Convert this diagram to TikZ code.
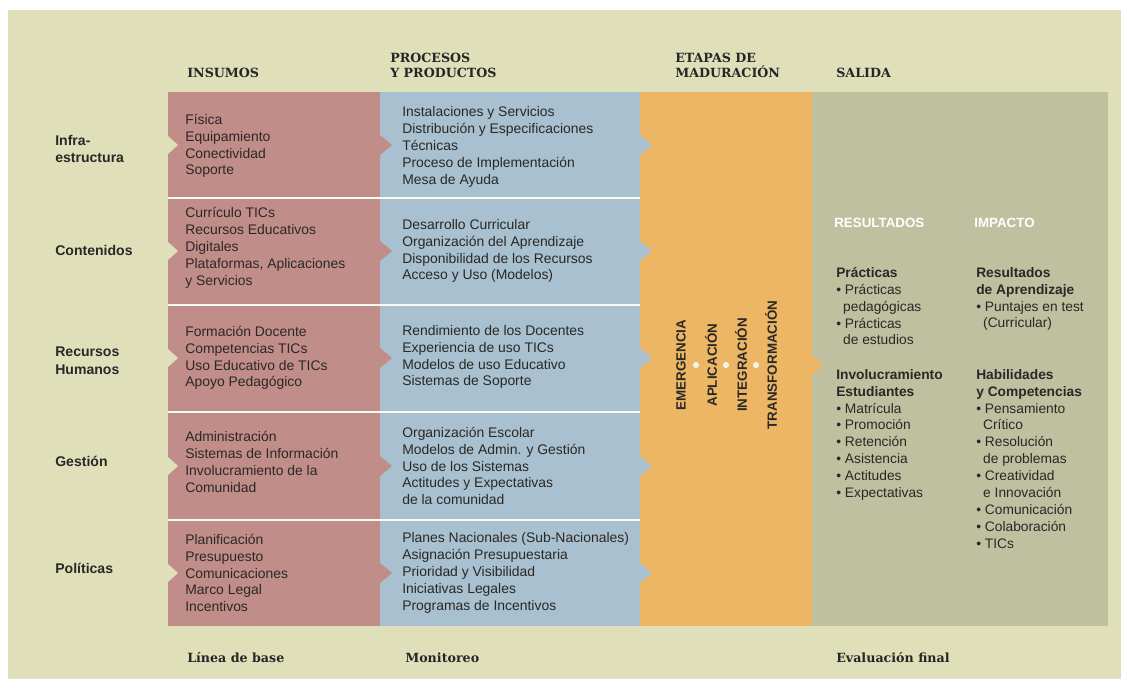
\documentclass[tikz,border=0pt]{standalone}
\usepackage{fontspec}
\setmainfont{Liberation Sans}
\newfontfamily\slab{DejaVu Serif}
\usepackage{tikz}
\usetikzlibrary{positioning}
\definecolor{fondo}{HTML}{DFE0BA}
\definecolor{rosa}{HTML}{C18D89}
\definecolor{celeste}{HTML}{A8C0CF}
\definecolor{naranja}{HTML}{EDB664}
\definecolor{oliva}{HTML}{BEC0A0}
\definecolor{tinta}{HTML}{2A2826}
\newcommand{\punto}{\textbullet\ }
\newcommand{\sangria}{\hspace*{0.5em}}

\begin{document}
\begin{tikzpicture}[x=0.025cm,y=-0.025cm,
    head/.style={font=\slab\bfseries\fontsize{9}{11}\selectfont, inner sep=0, align=left, text=black!85},
    fila/.style={font=\bfseries\fontsize{10}{12.5}\selectfont, inner sep=0, align=left, anchor=west, text=tinta},
    cuerpo/.style={font=\fontsize{9.9}{12}\selectfont, inner sep=0, align=left, anchor=west, text=tinta},
    lista/.style={font=\fontsize{9.8}{12}\selectfont, inner sep=0, align=left, anchor=north west, text=tinta},
    etapa/.style={font=\bfseries\fontsize{9.5}{11}\selectfont, rotate=90, inner sep=0, text=tinta},
    blanco/.style={font=\bfseries\fontsize{9.5}{11}\selectfont, inner sep=0, anchor=west, text=white}]
  \useasboundingbox (0,0) rectangle (1128,688);
  \fill[fondo] (8,10) rectangle (1121,679);
  \fill[oliva] (812,92) rectangle (1108,626);
  \fill[naranja] (640,92) rectangle (812,626);
  \fill[naranja] (812,355) -- (823,365) -- (812,375) -- cycle;
  \fill[celeste] (380,92) rectangle (640,626);
  \fill[rosa] (168,92) rectangle (380,626);
  \foreach \y in {145,251,358,466,573}{
    \fill[celeste] (640,\y-10) -- (652,\y) -- (640,\y+10) -- cycle;
    \fill[rosa] (380,\y-10) -- (392,\y) -- (380,\y+10) -- cycle;
    \fill[fondo] (168,\y-9) -- (178,\y) -- (168,\y+9) -- cycle;
  }
  \foreach \y in {198,305,412,520}
    \draw[white!85!fondo, line width=0.8pt] (168,\y) -- (640,\y);
  \foreach \x in {696,726,756}
    \fill[white!60!fondo] (\x,365) circle[radius=2.2pt];

  \node[head, anchor=base west] (insumos) at (187,78) {INSUMOS};
  \node[head, anchor=south west] (procesos) at (390,78) {PROCESOS\\Y PRODUCTOS};
  \node[head, anchor=south west] (etapas) at (675,78) {ETAPAS DE\\MADURACIÓN};
  \node[head, anchor=base west] (salida) at (836,78) {SALIDA};

  \node[fila] (infra) at (55,149) {Infra-\\estructura};
  \node[fila] (conten) at (55,250) {Contenidos};
  \node[fila] (rrhh) at (55,361) {Recursos\\Humanos};
  \node[fila] (gestion) at (55,461) {Gestión};
  \node[fila] (politica) at (55,568) {Políticas};

  \node[cuerpo] (ins1) at (185,146) {Física\\Equipamiento\\Conectividad\\Soporte};
  \node[cuerpo] (ins2) at (185,248) {Currículo TICs\\Recursos Educativos\\Digitales\\Plataformas, Aplicaciones\\y Servicios};
  \node[cuerpo] (ins3) at (185,358) {Formación Docente\\Competencias TICs\\Uso Educativo de TICs\\Apoyo Pedagógico};
  \node[cuerpo] (ins4) at (185,462) {Administración\\Sistemas de Información\\Involucramiento de la\\Comunidad};
  \node[cuerpo] (ins5) at (185,573) {Planificación\\Presupuesto\\Comunicaciones\\Marco Legal\\Incentivos};

  \node[cuerpo] (pro1) at (402,147) {Instalaciones y Servicios\\Distribución y Especificaciones\\Técnicas\\Proceso de Implementación\\Mesa de Ayuda};
  \node[cuerpo] (pro2) at (402,251) {Desarrollo Curricular\\Organización del Aprendizaje\\Disponibilidad de los Recursos\\Acceso y Uso (Modelos)};
  \node[cuerpo] (pro3) at (402,357) {Rendimiento de los Docentes\\Experiencia de uso TICs\\Modelos de uso Educativo\\Sistemas de Soporte};
  \node[cuerpo] (pro4) at (402,466) {Organización Escolar\\Modelos de Admin. y Gestión\\Uso de los Sistemas\\Actitudes y Expectativas\\de la comunidad};
  \node[cuerpo] (pro5) at (402,573) {Planes Nacionales (Sub-Nacionales)\\Asignación Presupuestaria\\Prioridad y Visibilidad\\Iniciativas Legales\\Programas de Incentivos};

  \node[etapa] (emerg) at (681,365) {EMERGENCIA};
  \node[etapa] (aplic) at (711,365) {APLICACIÓN};
  \node[etapa] (integ) at (741,365) {INTEGRACIÓN};
  \node[etapa] (transf) at (771,365) {TRANSFORMACIÓN};

  \node[blanco] (resultados) at (834,223) {RESULTADOS};
  \node[blanco] (impacto) at (974,223) {IMPACTO};
  \node[lista] (practicas) at (836,267) {\textbf{Prácticas}\\\punto Prácticas\\\sangria pedagógicas\\\punto Prácticas\\\sangria de estudios};
  \node[lista] (invol) at (836,369) {\textbf{Involucramiento}\\\textbf{Estudiantes}\\\punto Matrícula\\\punto Promoción\\\punto Retención\\\punto Asistencia\\\punto Actitudes\\\punto Expectativas};
  \node[lista] (aprend) at (976,267) {\textbf{Resultados}\\\textbf{de Aprendizaje}\\\punto Puntajes en test\\\sangria(Curricular)};
  \node[lista] (habil) at (976,369) {\textbf{Habilidades}\\\textbf{y Competencias}\\\punto Pensamiento\\\sangria Crítico\\\punto Resolución\\\sangria de problemas\\\punto Creatividad\\\sangria e Innovación\\\punto Comunicación\\\punto Colaboración\\\punto TICs};

  \node[head, anchor=base west] (base) at (187,662) {Línea de base};
  \node[head, anchor=base west] (monitoreo) at (405,662) {Monitoreo};
  \node[head, anchor=base west] (evaluacion) at (836,662) {Evaluación final};
\end{tikzpicture}
\end{document}
